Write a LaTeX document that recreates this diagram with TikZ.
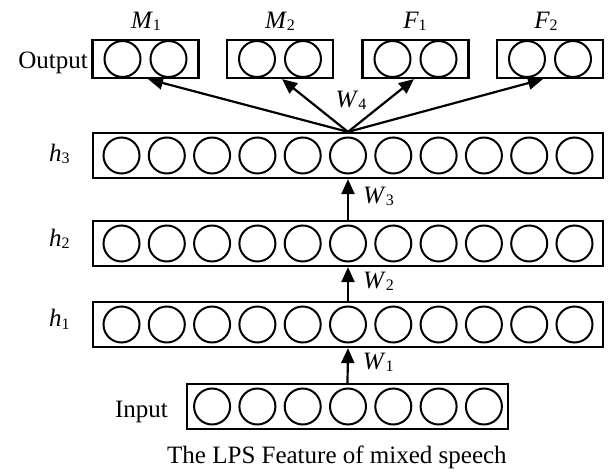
\documentclass[tikz,border=0pt]{standalone}
\usepackage{fontspec}
\setmainfont{Liberation Serif}
\usetikzlibrary{arrows.meta,calc}

% italic symbol with a small, slightly lowered index
\newcommand\symidx[2]{\textit{#1}\raisebox{-2pt}{\fontsize{16}{16}\selectfont #2}}

\tikzset{
  txt/.style={inner sep=0pt, font=\fontsize{25}{30}\selectfont},
  layerbox/.style={draw, line width=2.2pt, rectangle, inner sep=0pt},
  unit/.style={draw, line width=2pt, circle, inner sep=0pt, minimum size=36pt},
  arr/.style={line width=2.2pt, -{Triangle[length=15pt,width=13pt]}},
}

\begin{document}
\begin{tikzpicture}[x=1pt, y=-1pt]
\useasboundingbox (0,0) rectangle (614,473);

% ---- output groups ----
\foreach \nm/\cx in {M1/145.5, M2/280, F1/415.5, F2/550} {
  \node[layerbox, minimum width=106pt, minimum height=38pt] (\nm) at (\cx,59) {};
  \node[unit] (\nm a) at (\cx-23,59) {};
  \node[unit] (\nm b) at (\cx+23,59) {};
}
\node[txt, anchor=base] (tM1) at (146,29) {\symidx{M}{1}};
\node[txt, anchor=base] (tM2) at (280,29) {\symidx{M}{2}};
\node[txt, anchor=base] (tF1) at (415,29) {\symidx{F}{1}};
\node[txt, anchor=base] (tF2) at (546,29) {\symidx{F}{2}};
\node[txt, anchor=base east] (tout) at (88,69) {Output};

% ---- hidden layers ----
\foreach \nm/\cy in {h3/155.5, h2/243.5, h1/324.5} {
  \node[layerbox, minimum width=510pt, minimum height=45pt] (\nm) at (348,\cy) {};
  \foreach \i in {1,...,11} {
    \node[unit] (\nm c\i) at ({348+(\i-6)*45.3},\cy) {};
  }
}
\node[txt, anchor=base west] (th3) at (49,162) {\symidx{h}{3}};
\node[txt, anchor=base west] (th2) at (49,247) {\symidx{h}{2}};
\node[txt, anchor=base west] (th1) at (49,327) {\symidx{h}{1}};

% ---- input layer ----
\node[layerbox, minimum width=321pt, minimum height=45pt] (in) at (347.5,406.5) {};
\foreach \i in {1,...,7} {
  \node[unit] (inc\i) at ({348+(\i-4)*45.3},406.5) {};
}
\node[txt, anchor=base east] (tin) at (168,418) {Input};
\node[txt, anchor=base west] (cap) at (167,464) {The LPS Feature of mixed speech};

% ---- connections ----
\draw[arr] (in.north) -- node[txt, right, xshift=14pt, yshift=3pt] (w1) {\symidx{W}{1}} (h1.south);
\draw[arr] (h1.north) -- node[txt, right, xshift=14pt, yshift=3pt] (w2) {\symidx{W}{2}} (h2.south);
\draw[arr] (h2.north) -- node[txt, right, xshift=14pt, yshift=3pt] (w3) {\symidx{W}{3}} (h3.south);

\coordinate (hub) at (h3.north);
\draw[arr] (hub) -- ([xshift=2.5pt]M1.south);
\draw[arr] (hub) -- ([xshift=2pt]M2.south);
\draw[arr] (hub) -- ([xshift=-1.5pt]F1.south);
\draw[arr] (hub) -- ([xshift=-7pt]F2.south);
\node[txt] (w4) at (351,100) {\symidx{W}{4}};
\end{tikzpicture}
\end{document}
